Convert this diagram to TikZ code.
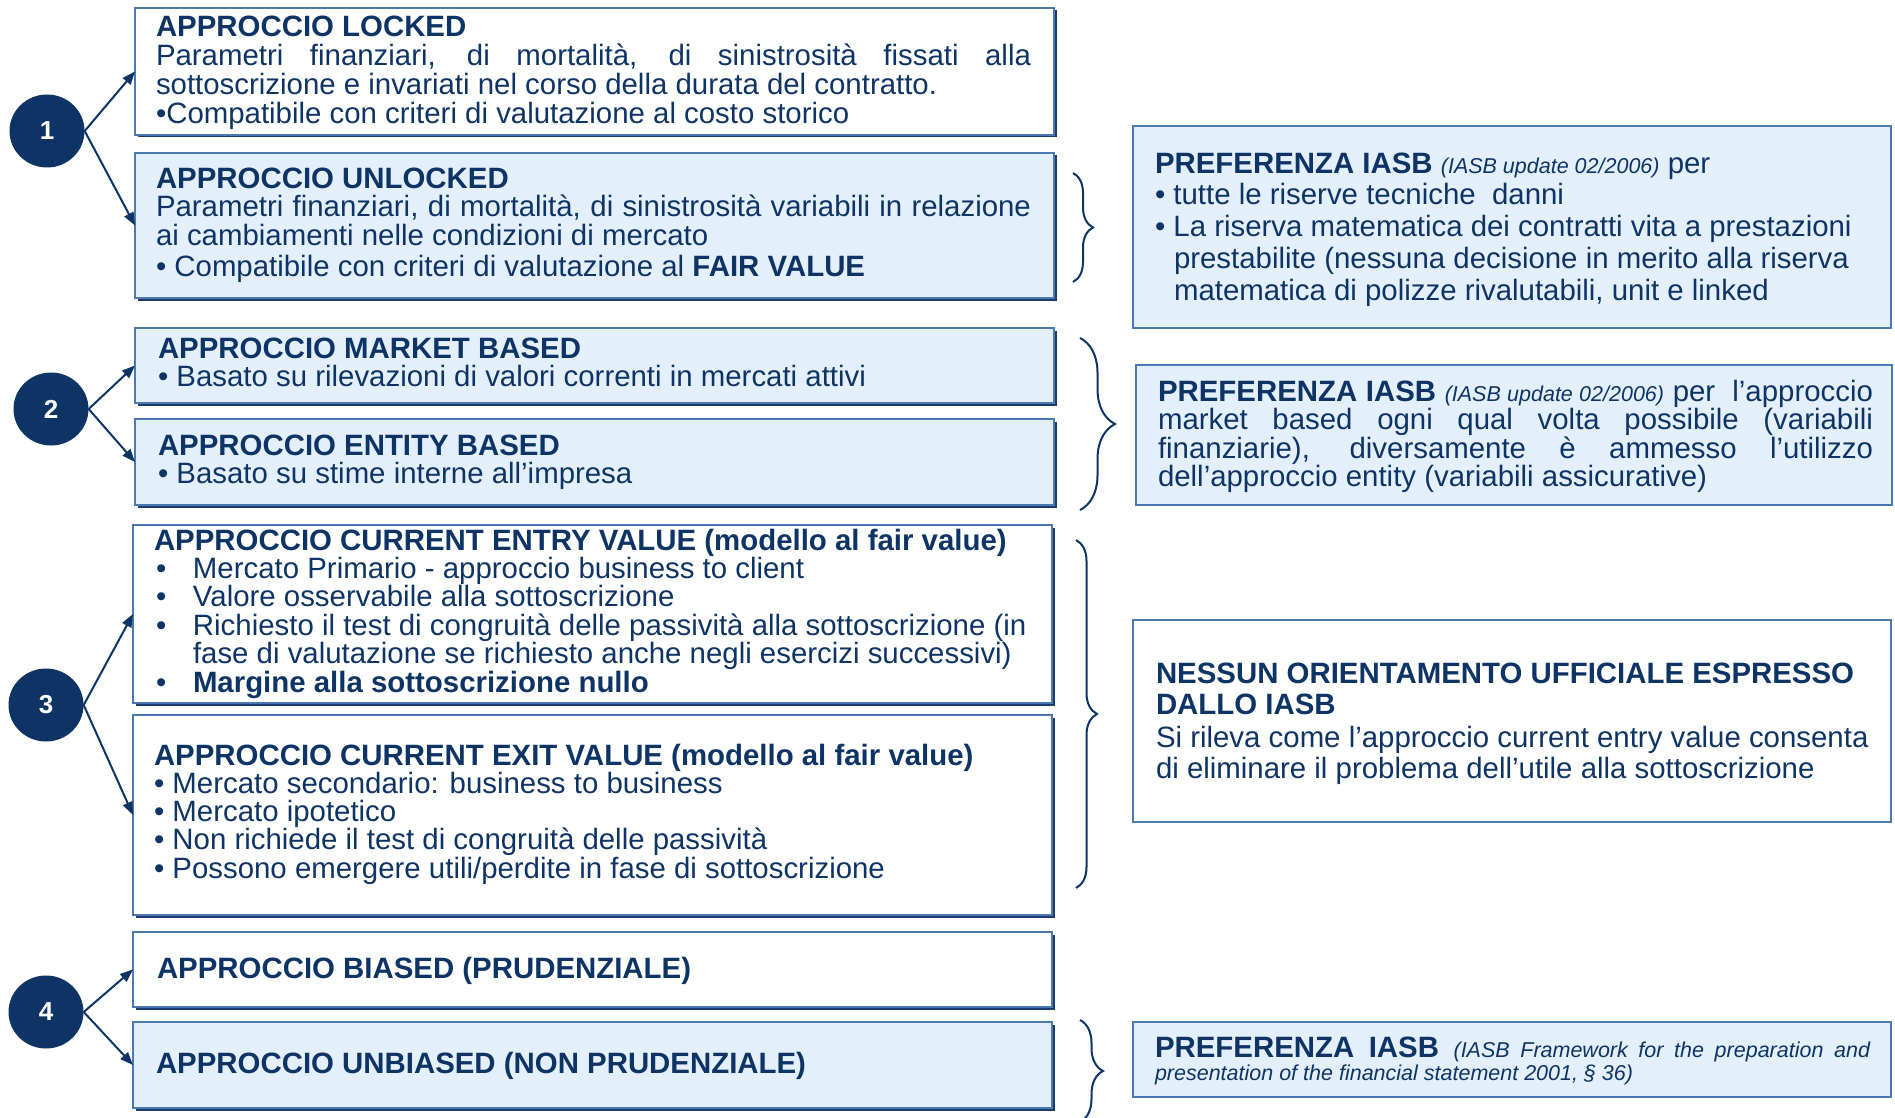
\documentclass[tikz,border=0pt]{standalone}
\usepackage{fontspec}
\setmainfont{Liberation Sans}
\usetikzlibrary{arrows.meta,decorations.pathreplacing,shadows,shapes.geometric}
\definecolor{navy}{HTML}{0E3465}
\definecolor{bordc}{HTML}{4A7AB0}
\definecolor{shadc}{HTML}{1C3D6B}
\definecolor{lfill}{HTML}{E4EFFC}
\newcommand\nf{\fontsize{29.4}{28.7}\selectfont}
\newcommand\itf{\fontsize{21.5}{21}\selectfont\itshape}
\newcommand\fl{\rule{0pt}{22pt}}
\newcommand\jl[2]{\makebox[#1][s]{#2}}
\newcommand\bl{\makebox[39pt][l]{\hspace{2pt}•}}
\begin{document}
\begin{tikzpicture}[x=1pt,y=-1pt,
  box/.style={draw=bordc, line width=2pt, rectangle, anchor=north west, inner sep=0pt, outer sep=0pt},
  sbox/.style={box, drop shadow={shadow xshift=2.5pt, shadow yshift=-2.5pt, fill=shadc, opacity=1}},
  whitebox/.style={sbox, fill=white},
  bluebox/.style={sbox, fill=lfill},
  rbox/.style={box, fill=lfill},
  rwbox/.style={box, fill=white},
  txt/.style={anchor=north west, inner sep=0pt, outer sep=0pt, align=left, font=\nf, text=navy},
  circ/.style={ellipse, fill=navy, minimum width=75pt, minimum height=73pt, inner sep=0pt, text=white, font=\fontsize{26}{26}\selectfont\bfseries},
  arr/.style={draw=navy, line width=2pt, -{Triangle[length=13pt,width=10pt]}},
  brc/.style={draw=navy, line width=2pt, decorate, decoration={brace, amplitude=#1}}
]
\fill[white] (0,0) rectangle (1895,1118);
\useasboundingbox (0,0) rectangle (1895,1118);

% left boxes
\node[whitebox, minimum width=919pt, minimum height=127pt] (locked) at (135,8) {};
\node[bluebox, minimum width=919pt, minimum height=145pt] (unlocked) at (135,153) {};
\node[bluebox, minimum width=919pt, minimum height=75pt] (market) at (135,328) {};
\node[bluebox, minimum width=919pt, minimum height=86pt] (entity) at (135,419) {};
\node[whitebox, minimum width=919pt, minimum height=178pt] (entry) at (133,525) {};
\node[whitebox, minimum width=919pt, minimum height=200pt] (exit) at (133,715) {};
\node[whitebox, minimum width=919pt, minimum height=75pt] (biased) at (133,932) {};
\node[bluebox, minimum width=919pt, minimum height=86pt] (unbiased) at (133,1022) {};

% right boxes
\node[rbox, minimum width=758pt, minimum height=202pt] (pref1) at (1133,126) {};
\node[rbox, minimum width=756pt, minimum height=140pt] (pref2) at (1136,365) {};
\node[rwbox, minimum width=758pt, minimum height=202pt] (nessun) at (1133,620) {};
\node[rbox, minimum width=758pt, minimum height=75pt] (pref4) at (1133,1022) {};

% texts (north = first baseline - 22)
\node[txt] (tlocked) at (156,15) {\fl\textbf{APPROCCIO LOCKED}\\
\jl{875pt}{Parametri finanziari, di mortalità, di sinistrosità fissati alla}\\
sottoscrizione e invariati nel corso della durata del contratto.\\
•Compatibile con criteri di valutazione al costo storico};

\node[txt] (tunlocked) at (156,166) {\fl\textbf{APPROCCIO UNLOCKED}\\
\jl{875pt}{Parametri finanziari, di mortalità, di sinistrosità variabili in relazione}\\
ai cambiamenti nelle condizioni di mercato\\[2pt]
• Compatibile con criteri di valutazione al \textbf{FAIR VALUE}};

\node[txt] (tmarket) at (158,336) {\fl\textbf{APPROCCIO MARKET BASED}\\
• Basato su rilevazioni di valori correnti in mercati attivi};

\node[txt] (tentity) at (158,433) {\fl\textbf{APPROCCIO ENTITY BASED}\\
• Basato su stime interne all’impresa};

\node[txt, font=\fontsize{29.4}{28.4}\selectfont] (tentry) at (154,528) {\fl\textbf{APPROCCIO CURRENT ENTRY VALUE (modello al fair value)}\\
\bl Mercato Primario - approccio business to client\\
\bl Valore osservabile alla sottoscrizione\\
\bl Richiesto il test di congruità delle passività alla sottoscrizione (in\\
\hspace*{39pt}fase di valutazione se richiesto anche negli esercizi successivi)\\
\bl \textbf{Margine alla sottoscrizione nullo}};

\node[txt, font=\fontsize{29.4}{28.3}\selectfont] (texit) at (154,743) {\fl\textbf{APPROCCIO CURRENT EXIT VALUE (modello al fair value)}\\
• Mercato secondario: business to business\\
• Mercato ipotetico\\
• Non richiede il test di congruità delle passività\\
• Possono emergere utili/perdite in fase di sottoscrizione};

\node[txt] (tbiased) at (157,956) {\fl\textbf{APPROCCIO BIASED (PRUDENZIALE)}};
\node[txt] (tunbiased) at (156,1051) {\fl\textbf{APPROCCIO UNBIASED (NON PRUDENZIALE)}};

\node[txt, font=\fontsize{29.4}{31.8}\selectfont] (tpref1) at (1155,151) {\fl\textbf{PREFERENZA IASB} {\itf (IASB update 02/2006)} per\\
• tutte le riserve tecniche\ \ danni\\
• La riserva matematica dei contratti vita a prestazioni\\
\hspace*{19pt}prestabilite (nessuna decisione in merito alla riserva\\
\hspace*{19pt}matematica di polizze rivalutabili, unit e linked};

\node[txt, font=\fontsize{29.4}{28.6}\selectfont] (tpref2) at (1158,379) {\fl\jl{715pt}{\textbf{PREFERENZA IASB} {\itf (IASB update 02/2006)} per\ \ l’approccio}\\
\jl{715pt}{market based ogni qual volta possibile (variabili}\\
\jl{715pt}{finanziarie), diversamente è ammesso l’utilizzo}\\
dell’approccio entity (variabili assicurative)};

\node[txt, font=\fontsize{29.4}{31}\selectfont] (tnessun) at (1156,661) {\fl\textbf{NESSUN ORIENTAMENTO UFFICIALE ESPRESSO}\\
\textbf{DALLO IASB}\\[2pt]
Si rileva come l’approccio current entry value consenta\\
di eliminare il problema dell’utile alla sottoscrizione};

\node[txt, font=\fontsize{29.4}{23}\selectfont] (tpref4) at (1155,1035) {\fl\jl{715pt}{\textbf{PREFERENZA IASB} {\itf (IASB Framework for the preparation and}}\\
{\itf presentation of the financial statement 2001, § 36)}};

% circles
\node[circ] (c1) at (47,131) {1};
\node[circ] (c2) at (51,409) {2};
\node[circ] (c3) at (46,705) {3};
\node[circ] (c4) at (46,1012) {4};

% arrows
\draw[arr] (c1.east) -- (locked.west);
\draw[arr] (c1.east) -- (unlocked.west);
\draw[arr] (c2.east) -- (market.west);
\draw[arr] (c2.east) -- (entity.west);
\draw[arr] (c3.east) -- (entry.west);
\draw[arr] (c3.east) -- (exit.west);
\draw[arr] (c4.east) -- (biased.west);
\draw[arr] (c4.east) -- (unbiased.west);

% braces
\coordinate (b1a) at (1073,173); \coordinate (b1b) at (1073,282);
\coordinate (b2a) at (1080,338); \coordinate (b2b) at (1080,510);
\coordinate (b3a) at (1076,540); \coordinate (b3b) at (1076,888);
\coordinate (b4a) at (1080,1020); \coordinate (b4b) at (1080,1122);
\draw[brc=20pt] (b1a) -- (b1b);
\draw[brc=35pt] (b2a) -- (b2b);
\draw[brc=21pt] (b3a) -- (b3b);
\draw[brc=23pt] (b4a) -- (b4b);
\end{tikzpicture}
\end{document}
